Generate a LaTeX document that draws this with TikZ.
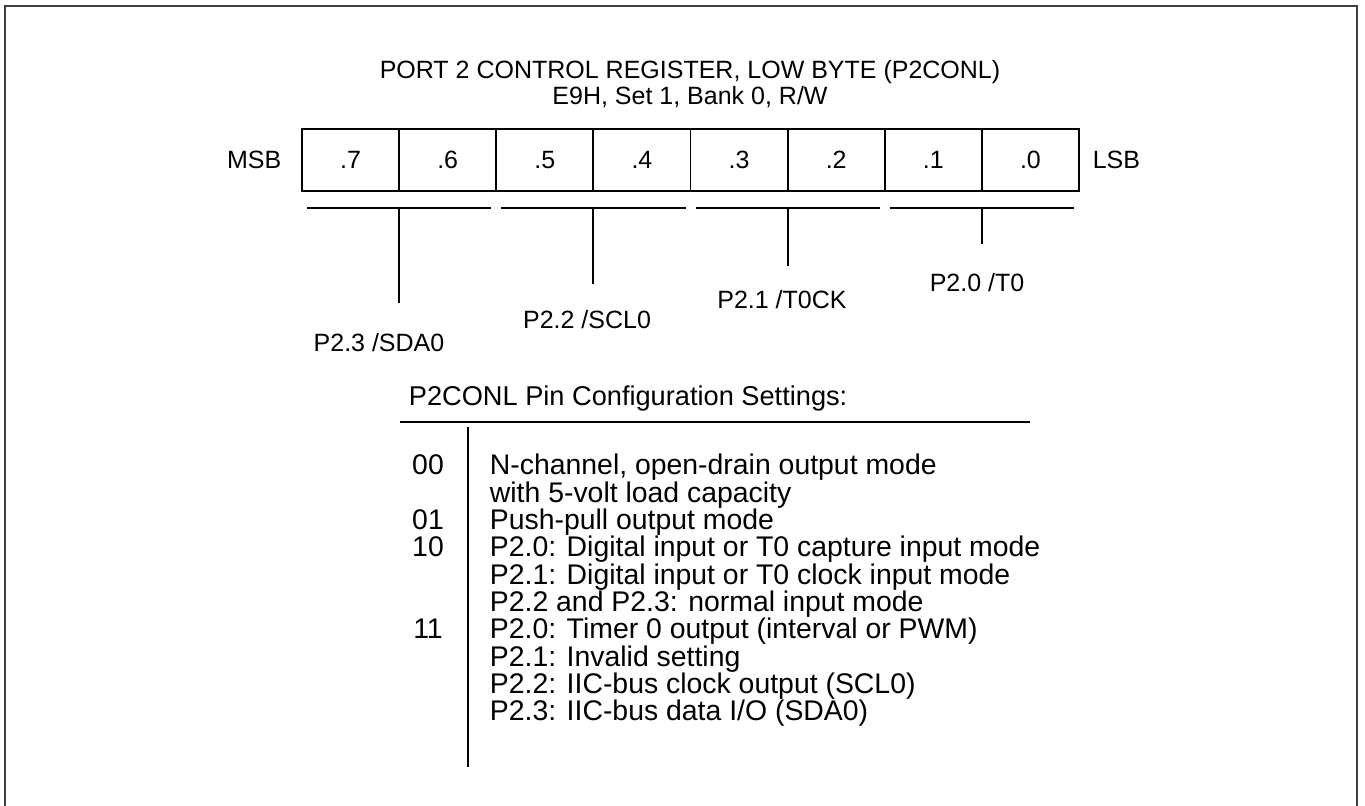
\documentclass[tikz,border=0pt]{standalone}
\usepackage{fontspec}
\setmainfont{Liberation Sans}
\usetikzlibrary{positioning}
\begin{document}
\begin{tikzpicture}[x=0.5pt, y=-0.5pt, line width=0.9pt,
  txt/.style={font=\fontsize{12.5}{15}\selectfont, inner sep=0pt},
  listtxt/.style={font=\fontsize{14.2}{16}\selectfont, inner sep=0pt},
  bitcell/.style={draw, minimum width=48.56pt, minimum height=31pt, inner sep=0pt,
                  font=\fontsize{12.5}{15}\selectfont}]
\useasboundingbox (0,0) rectangle (1365,806);

%% ---- Cornice ----
\draw[black!75] (5,806) -- (5,6) -- (1357,6) -- (1357,806);

%% ---- Titolo ----
\node[txt, anchor=base] (title) at (690,79) {PORT 2 CONTROL REGISTER, LOW BYTE (P2CONL)};
\node[txt, anchor=base] (addr)  at (690,105) {E9H, Set 1, Bank 0, R/W};

%% ---- Registro (x=[302,1079], y=[129,191]) ----
\foreach \b [count=\i from 0] in {7,...,0}
  \node[bitcell] (b\b) at ({302+97.125*(\i+0.5)},160) {.\b};
\node[txt, left=9.5pt of b7]  (msb) {MSB};
\node[txt, right=6pt of b0]   (lsb) {LSB};

%% ---- Gruppi di bit ----
\foreach \k/\lo/\lx/\ly/\lab in {0/303/379/343/{P2.3 /SDA0},
                                 1/284/587/320/{P2.2 /SCL0},
                                 2/266/782/300/{P2.1 /T0CK},
                                 3/244/977/283/{P2.0 /T0}} {
  \draw ({302+194.25*\k+5},208) -- ({302+194.25*(\k+1)-5},208);
  \draw ({302+194.25*(\k+0.5)},208) -- ({302+194.25*(\k+0.5)},\lo);
  \node[txt] (pin\k) at (\lx,\ly) {\lab};
}

%% ---- Impostazioni ----
\node[listtxt, font=\fontsize{13.6}{16}\selectfont, anchor=base west] (hdr) at (408,406)
  {P2CONL Pin Configuration Settings:};
\draw (400,422) -- (1030,422);
\draw (468,427) -- (468,767);
\foreach \c/\r in {00/0, 01/2, 10/3, 11/6}
  \node[listtxt, anchor=base] (code\c) at (428,{475+27.3*\r}) {\c};
\foreach \t [count=\r from 0] in {{N-channel, open-drain output mode},
    {with 5-volt load capacity},
    {Push-pull output mode},
    {P2.0: Digital input or T0 capture input mode},
    {P2.1: Digital input or T0 clock input mode},
    {P2.2 and P2.3: normal input mode},
    {P2.0: Timer 0 output (interval or PWM)},
    {P2.1: Invalid setting},
    {P2.2: IIC-bus clock output (SCL0)},
    {P2.3: IIC-bus data I/O (SDA0)}}
  \node[listtxt, anchor=base west] (row\r) at (489,{475+27.3*\r}) {\t};

\end{tikzpicture}
\end{document}
